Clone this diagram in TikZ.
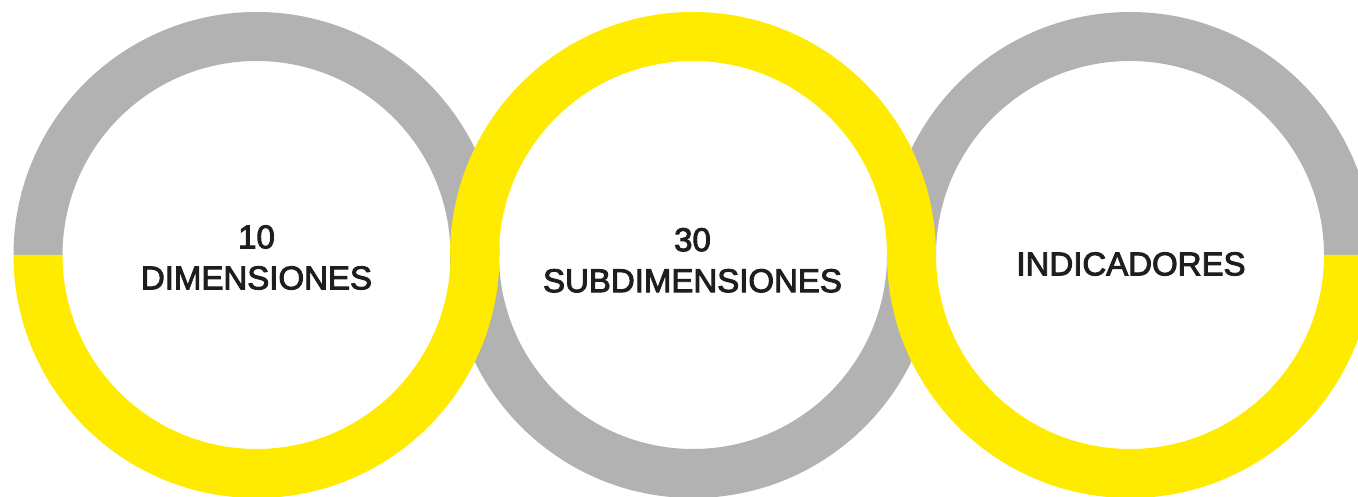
\documentclass[tikz,border=0pt]{standalone}
\usepackage{fontspec}
\setmainfont{Liberation Sans}
\newfontfamily\labelfont{Liberation Sans}[FakeBold=2.8]

\definecolor{ringgray}{HTML}{B2B2B2}
\definecolor{ringyellow}{HTML}{FFEB00}
\definecolor{labeltext}{HTML}{1E1E1E}

\tikzset{
    ringlabel/.style={align=center,text=labeltext,inner sep=0pt,
        font=\labelfont\fontsize{33}{41}\selectfont},
}

% half of a ring: centre, start angle, colour
\newcommand{\halfring}[3]{%
    \fill[#3] (#1) ++(#2:243) arc[start angle=#2,end angle=#2+180,radius=243]
        -- ++(#2:49) arc[start angle=#2+180,end angle=#2,radius=194] -- cycle;
}

\begin{document}
\begin{tikzpicture}[x=1pt,y=1pt]
    \useasboundingbox (0,0) rectangle (1358,497);
    \clip (0,0) rectangle (1358,497);
    \coordinate (dim) at (256.5,242);
    \coordinate (sub) at (693,242);
    \coordinate (ind) at (1130,242);
    % grey halves first, the yellow ones lie on top of them
    \foreach \c/\a in {dim/0,sub/180,ind/0}{
        \halfring{\c}{\a}{ringgray}
    }
    \foreach \c/\a in {dim/180,sub/0,ind/180}{
        \halfring{\c}{\a}{ringyellow}
    }
    \node[ringlabel] (dimlabel) at (256.5,239.5) {10\\DIMENSIONES};
    \node[ringlabel] (sublabel) at (692.5,236.7) {30\\SUBDIMENSIONES};
    \node[ringlabel] (indlabel) at (1131,233) {INDICADORES};
\end{tikzpicture}
\end{document}
